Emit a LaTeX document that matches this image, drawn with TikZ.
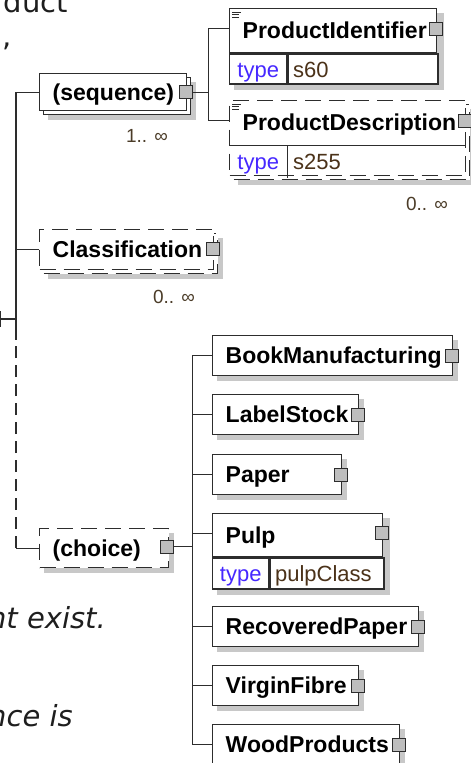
\documentclass[tikz,border=0pt]{standalone}
\usepackage{fontspec}
\setmainfont{Liberation Sans}
\newfontfamily\slidefont{DejaVu Sans}
\usetikzlibrary{calc,backgrounds}
\definecolor{linec}{RGB}{45,45,45}
\definecolor{shadowc}{RGB}{200,200,200}
\definecolor{typec}{RGB}{70,40,255}
\definecolor{valc}{RGB}{75,50,25}
\definecolor{multc}{RGB}{75,60,40}
\definecolor{btnc}{RGB}{190,190,190}
\definecolor{slidec}{RGB}{30,30,30}
\newcommand\xtitle{\fontsize{23bp}{27bp}\selectfont\bfseries}
\newcommand\xval{\fontsize{22bp}{26bp}\selectfont}
\newcommand\xmult{\fontsize{19bp}{23bp}\selectfont}
\newcommand\xslide{\slidefont\fontsize{29bp}{34bp}\selectfont}
\begin{document}
\begin{tikzpicture}[x=1bp,y=-1bp,
  ln/.style={draw=linec,line width=1.4bp},
  dsh/.style={dash pattern=on 16bp off 8bp},
  optconn/.style={ln,dash pattern=on 12bp off 7bp},
  elbox/.style={ln,fill=white,rectangle,anchor=north west,inner ysep=0pt,inner xsep=13bp,align=left,text height=16.5bp,text depth=0bp,font=\xtitle,text=black},
  bk/.style={ln,fill=white,rectangle,anchor=north west,inner sep=0pt},
  tlab/.style={ln,fill=white,rectangle,anchor=north west,inner sep=0pt,font=\xval,text=typec,text height=16bp,text depth=0bp},
  tval/.style={ln,fill=white,rectangle,anchor=north west,inner ysep=0pt,inner xsep=5bp,align=left,font=\xval,text=valc,text height=16bp,text depth=0bp},
  btn/.style={draw=linec,line width=1.1bp,fill=btnc,rectangle,minimum size=13bp,inner sep=0pt},
  mult/.style={anchor=base east,inner sep=0pt,font=\xmult,text=multc},
  slide/.style={inner sep=0pt,font=\xslide,text=slidec},
  doc/.style={draw=linec,line width=0.8bp},
  shd/.style={fill=shadowc}
]
\useasboundingbox (0,0) rectangle (471,763);

% slide text fragments
\node[slide,anchor=base east] (sl1) at (68,13) {duct};
\node[slide,anchor=base west] (sl2) at (2,47) {,};
\node[slide,anchor=base east,font=\xslide\itshape] (sl3) at (106,628) {ht exist.};
\node[slide,anchor=base east,font=\xslide\itshape] (sl4) at (73,726) {nce is};

% sequence
\node[bk,minimum width=147bp,minimum height=37bp] (seqB) at (43,77) {};
\node[elbox,minimum height=37bp,text width=121bp] (seq) at (39,73) {\mbox{(sequence)}};
\node[btn] (seqBtn) at ($(seq.east)+(-1,0)$) {};
\node[mult] (seqM) at (168,142) {1.. ∞};

% ProductIdentifier
\node[elbox,minimum height=44bp,text width=181bp] (pid) at (229,8) {\mbox{ProductIdentifier}};
\node[tlab,minimum width=57bp,minimum height=30bp] (pidT) at (pid.south west) {type};
\node[tval,minimum height=30bp,text width=140bp] (pidV) at (pidT.north east) {s60};
\node[btn] (pidBtn) at ($(pid.east)+(-1,-2)$) {};

% ProductDescription
\node[bk,dsh,minimum width=236bp,minimum height=75bp] (pdB) at (233,104) {};
\node[bk,dsh,minimum width=236bp,minimum height=75bp] (pd) at (229,100) {};
\node[elbox,draw=none,fill=none,minimum height=44bp,text width=210bp] (pdN) at (pd.north west) {\mbox{ProductDescription}};
\node[tlab,draw=none,fill=none,minimum width=57bp,minimum height=31bp] (pdT) at (pdN.south west) {type};
\node[tval,draw=none,fill=none,minimum height=31bp,text width=169bp] (pdV) at (pdT.north east) {s255};
\draw[ln] (pdN.south west) -- (pdN.south east);
\draw[ln] (pdT.north east) -- (pdT.south east);
\node[btn] (pdBtn) at ($(pdN.east)+(-1,-2)$) {};
\node[mult] (pdM) at (448,210) {0.. ∞};

% doc icons
\foreach \n in {pid,pdN}{
  \draw[doc] ($(\n.north west)+(3,4)$) -- ++(9,0);
  \draw[doc] ($(\n.north west)+(3,6.5)$) -- ++(7,0);
  \draw[doc] ($(\n.north west)+(3,9)$) -- ++(7,0);
}

% Classification
\node[bk,dsh,minimum width=174bp,minimum height=40bp] (clsB) at (43,233) {};
\node[elbox,dsh,minimum height=40bp,text width=148bp] (cls) at (39,229) {\mbox{Classification}};
\node[btn] (clsBtn) at ($(cls.east)+(-1,-1)$) {};
\node[mult] (clsM) at (195,303) {0.. ∞};

% choice
\node[elbox,dsh,minimum height=39bp,text width=103bp] (cho) at (39,528) {\mbox{(choice)}};
\node[btn] (choBtn) at ($(cho.east)+(-2,-1.5)$) {};

% choice children
\node[elbox,minimum height=40bp,text width=214bp] (bm) at (212,335) {\mbox{BookManufacturing}};
\node[btn] (bmBtn) at ($(bm.east)+(-1,0)$) {};
\node[elbox,minimum height=40bp,text width=120bp] (ls) at (212,394) {\mbox{LabelStock}};
\node[btn] (lsBtn) at ($(ls.east)+(-1,0)$) {};
\node[elbox,minimum height=40bp,text width=103bp] (pa) at (212,454) {\mbox{Paper}};
\node[btn] (paBtn) at ($(pa.east)+(-1,0)$) {};
\node[elbox,minimum height=43bp,text width=144bp] (pu) at (212,513) {\mbox{Pulp}};
\node[tlab,minimum width=56bp,minimum height=31bp] (puT) at (pu.south west) {type};
\node[tval,minimum height=31bp,text width=104bp] (puV) at (puT.north east) {pulpClass};
\node[btn] (puBtn) at ($(pu.east)+(-1,-2)$) {};
\node[elbox,minimum height=40bp,text width=180bp] (rp) at (212,606) {\mbox{RecoveredPaper}};
\node[btn] (rpBtn) at ($(rp.east)+(-1,0)$) {};
\node[elbox,minimum height=40bp,text width=120bp] (vf) at (212,665) {\mbox{VirginFibre}};
\node[btn] (vfBtn) at ($(vf.east)+(-1,0)$) {};
\node[elbox,minimum height=40bp,text width=161bp] (wp) at (212,724) {\mbox{WoodProducts}};
\node[btn] (wpBtn) at ($(wp.east)+(-1,0)$) {};

% shadows
\begin{pgfonlayer}{background}
\foreach \n/\m in {seqB/seqB,pid/pidV,pdB/pdB,clsB/clsB,cho/cho,bm/bm,ls/ls,pa/pa,pu/puV,rp/rp,vf/vf,wp/wp}
  \fill[shd] ($(\n.north west)+(5,5)$) rectangle ($(\m.south east)+(5,5)$);
\end{pgfonlayer}

% root connectors
\coordinate (rootL) at (0,319);
\coordinate (rJ) at (16,319);
\coordinate (sMid) at (16,340);
\coordinate (rootT1) at (0.7,311);
\coordinate (rootT2) at (0.7,327);
\draw[ln] (rootL) -- (rJ);
\draw[ln] (rootT1) -- (rootT2);
\draw[ln] (seq.west) -| (sMid);
\draw[ln] (cls.west) -- (cls.west -| rJ);
\draw[optconn] (sMid |- cho.west) -- (sMid);
\draw[ln] (sMid |- cho.west) -- (cho.west);

% sequence connectors
\coordinate (sq) at ($(seqBtn.east)+(15,0)$);
\draw[ln] (seqBtn.east) -- (sq);
\draw[ln] ($(pid.west)+(0,-2)$) -| (sq);
\draw[ln] ($(pdN.west)+(0,-2)$) -| (sq);

% choice connectors
\coordinate (cq) at ($(choBtn.east)+(18,0)$);
\coordinate (puC) at ($(pu.west)+(0,-2)$);
\draw[ln] (choBtn.east) -- (cq);
\draw[ln] (bm.west) -| (cq);
\draw[ln] (wp.west) -| (cq);
\draw[ln] (ls.west) -- (ls.west -| cq);
\draw[ln] (pa.west) -- (pa.west -| cq);
\draw[ln] (puC) -- (puC -| cq);
\draw[ln] (rp.west) -- (rp.west -| cq);
\draw[ln] (vf.west) -- (vf.west -| cq);
\end{tikzpicture}
\end{document}
